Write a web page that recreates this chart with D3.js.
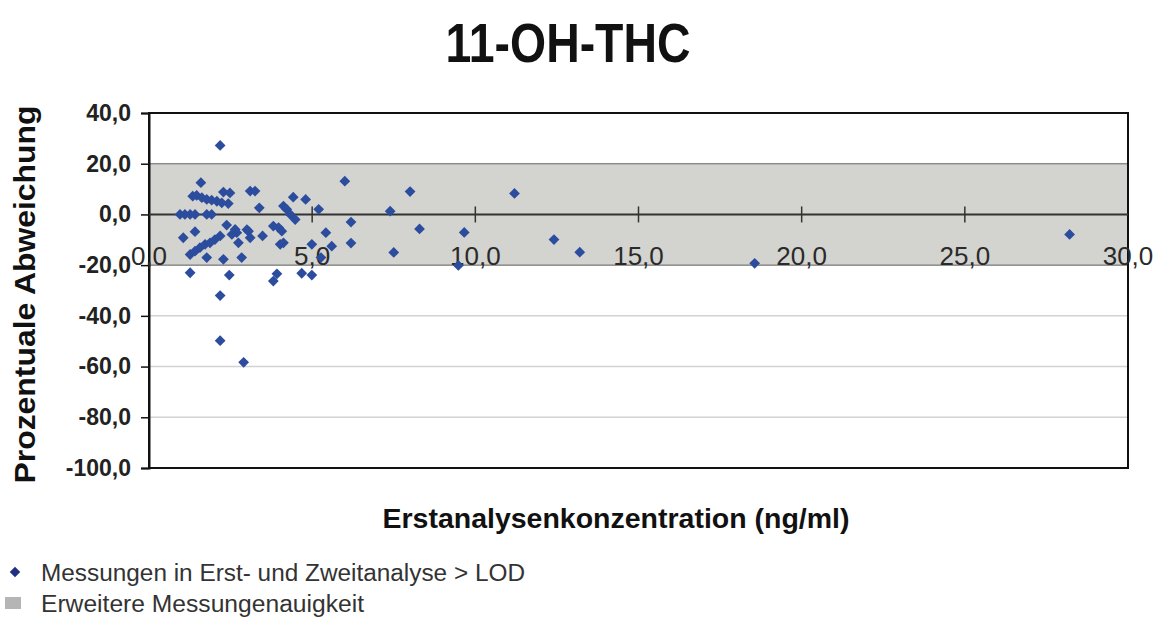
<!DOCTYPE html>
<html>
<head>
<meta charset="utf-8">
<script src="https://cdn.jsdelivr.net/npm/d3@7"></script>
<style>
  body { margin: 0; background: #fff; }
  svg { display: block; }
</style>
</head>
<body>
<svg id="chart"></svg>
<script>
// concentration (ng/ml) in the first analysis
const xValues = [
    2.18, 1.59, 6.0, 8.0, 11.2, 3.1, 3.25, 2.28, 2.48,
    1.34, 1.46, 1.62, 1.77, 1.92, 2.08, 2.23, 2.43,
    4.42, 4.8, 3.38, 5.2, 4.12, 4.22, 4.33, 4.48, 7.39,
    0.95, 1.1, 1.26, 1.41, 1.77, 1.92,
    2.38, 1.41, 2.64, 3.05, 2.69, 3.0, 3.1, 3.48,
    3.81, 3.97, 4.07, 5.42, 6.19, 8.29, 9.66, 1.05,
    1.26, 1.41, 1.56, 1.72, 1.87, 2.02, 2.18,
    1.77, 2.28, 2.84, 2.74, 2.54,
    4.02, 4.12, 4.99, 5.6, 6.19, 7.5, 5.27, 9.48,
    12.41, 13.2, 18.56, 28.21,
    1.26, 2.46, 3.81, 3.92, 4.68, 4.99,
    2.18, 2.18, 2.9
]
// percentage deviation of the second analysis
const yValues = [
    27.2, 12.5, 13.1, 9.0, 8.3, 9.2, 9.2, 8.8, 8.5,
    7.2, 7.5, 6.6, 5.9, 5.6, 5.2, 4.6, 4.3,
    6.8, 5.9, 2.6, 2.0, 3.3, 2.0, 0.0, -2.0, 1.3,
    0, 0, 0, 0, 0, 0,
    -4.2, -6.8, -5.9, -6.6, -7.2, -6.0, -9.2, -8.5,
    -4.6, -5.2, -6.6, -7.2, -3.0, -5.7, -7.1, -9.2,
    -15.8, -14.5, -13.1, -11.8, -11.2, -9.9, -8.5,
    -17.0, -17.7, -17.0, -11.2, -7.9,
    -11.8, -11.2, -11.8, -12.5, -11.3, -15.0, -17.0, -20.1,
    -9.9, -14.9, -19.3, -7.9,
    -23.0, -23.9, -26.3, -23.4, -23.2, -23.9,
    -32.0, -49.8, -58.3
]
const xTicks = [0, 5, 10, 15, 20, 25, 30]
const yTicks = [40, 20, 0, -20, -40, -60, -80, -100]
const band = [-20, 20]
const legendLabels = ['Messungen in Erst- und Zweitanalyse > LOD', 'Erweitere Messungenauigkeit']

const points = xValues.map((x, i) => ({ x: x, y: yValues[i] }))

const width = 1158
const height = 619
const margin = { top: 113, right: 30, bottom: 151, left: 149 }

const svg = d3.select('#chart')
    .attr('width', width)
    .attr('height', height)

const x = d3.scaleLinear().domain([0, 30]).range([margin.left, width - margin.right])
const y = d3.scaleLinear().domain([-100, 40]).range([height - margin.bottom, margin.top])

const fmt = d => d.toFixed(1).replace('.', ',')
const narrow = '"Liberation Sans Narrow", "Liberation Sans", Arial, sans-serif'

// title
svg.append('text')
    .attr('x', 568)
    .attr('y', 62)
    .attr('text-anchor', 'middle')
    .attr('font-family', narrow)
    .attr('font-weight', 'bold')
    .attr('font-size', '55px')
    .attr('textLength', 245)
    .attr('lengthAdjust', 'spacingAndGlyphs')
    .attr('fill', '#111')
    .text('11-OH-THC')

// gridlines
svg.append('g')
    .selectAll('line')
    .data(yTicks.filter(d => d !== 40 && d !== -100))
    .enter().append('line')
    .attr('x1', x(0))
    .attr('x2', x(30))
    .attr('y1', d => y(d))
    .attr('y2', d => y(d))
    .attr('stroke', '#d2d2d2')
    .attr('stroke-width', 1.5)

// measurement uncertainty band
svg.append('rect')
    .attr('x', x(0))
    .attr('y', y(band[1]))
    .attr('width', x(30) - x(0))
    .attr('height', y(band[0]) - y(band[1]))
    .attr('fill', '#d3d3cf')
    .attr('stroke', '#8c8c8c')
    .attr('stroke-width', 1.5)

// plot border
svg.append('rect')
    .attr('x', x(0))
    .attr('y', y(40))
    .attr('width', x(30) - x(0))
    .attr('height', y(-100) - y(40))
    .attr('fill', 'none')
    .attr('stroke', '#111')
    .attr('stroke-width', 2)

// y axis
const yAxis = svg.append('g')
    .attr('transform', `translate(${x(0)},0)`)
    .call(d3.axisLeft(y).tickValues(yTicks).tickFormat(fmt).tickSize(8).tickPadding(10))
yAxis.select('.domain').attr('stroke', '#111').attr('stroke-width', 2)
yAxis.selectAll('.tick line').attr('stroke', '#111').attr('stroke-width', 1.5)
yAxis.selectAll('text')
    .attr('font-family', '"Liberation Sans", Arial, sans-serif')
    .attr('font-weight', 'bold')
    .attr('font-size', '23px')
    .attr('fill', '#222')

// x axis, drawn at y = 0 with crossing ticks
const xAxis = svg.append('g')
    .attr('transform', `translate(0,${y(0)})`)
xAxis.append('line')
    .attr('x1', x(0))
    .attr('x2', x(30))
    .attr('stroke', '#333')
    .attr('stroke-width', 2)
xAxis.selectAll('.xtick')
    .data(xTicks.filter(d => d > 0 && d < 30))
    .enter().append('line')
    .attr('x1', d => x(d))
    .attr('x2', d => x(d))
    .attr('y1', -8)
    .attr('y2', 8)
    .attr('stroke', '#333')
    .attr('stroke-width', 1.5)
xAxis.selectAll('.xlabel')
    .data(xTicks)
    .enter().append('text')
    .attr('x', d => x(d))
    .attr('y', 51)
    .attr('text-anchor', 'middle')
    .attr('font-family', narrow)
    .attr('font-size', '26px')
    .attr('fill', '#2a2a2a')
    .text(fmt)

// axis titles
svg.append('text')
    .attr('transform', `translate(35,${(y(40) + y(-100)) / 2 + 4}) rotate(-90)`)
    .attr('text-anchor', 'middle')
    .attr('font-family', '"Liberation Sans", Arial, sans-serif')
    .attr('font-weight', 'bold')
    .attr('font-size', '29px')
    .attr('textLength', 378)
    .attr('lengthAdjust', 'spacingAndGlyphs')
    .attr('fill', '#111')
    .text('Prozentuale Abweichung')

svg.append('text')
    .attr('x', 616)
    .attr('y', 528)
    .attr('text-anchor', 'middle')
    .attr('font-family', '"Liberation Sans", Arial, sans-serif')
    .attr('font-weight', 'bold')
    .attr('font-size', '28px')
    .attr('textLength', 467)
    .attr('lengthAdjust', 'spacingAndGlyphs')
    .attr('fill', '#111')
    .text('Erstanalysenkonzentration (ng/ml)')

// points
const diamond = d3.symbol().type(d3.symbolSquare).size(58)
svg.append('g')
    .selectAll('path')
    .data(points)
    .enter().append('path')
    .attr('d', diamond)
    .attr('transform', d => `translate(${x(d.x)},${y(d.y)}) rotate(45)`)
    .attr('fill', '#2c4c9e')

// legend
const legend = svg.append('g')
legend.append('path')
    .attr('d', d3.symbol().type(d3.symbolSquare).size(55))
    .attr('transform', 'translate(15,572) rotate(45)')
    .attr('fill', '#1f2f86')
legend.append('rect')
    .attr('x', 5)
    .attr('y', 597)
    .attr('width', 16)
    .attr('height', 12)
    .attr('fill', '#b5b5b5')
legend.selectAll('text')
    .data(legendLabels)
    .enter().append('text')
    .attr('x', 41)
    .attr('y', (d, i) => 581 + i * 31)
    .attr('font-family', '"Liberation Sans", Arial, sans-serif')
    .attr('font-size', '23px')
    .attr('textLength', (d, i) => i === 0 ? 484 : 323)
    .attr('lengthAdjust', 'spacingAndGlyphs')
    .attr('fill', '#333')
    .text(d => d)
</script>
</body>
</html>
